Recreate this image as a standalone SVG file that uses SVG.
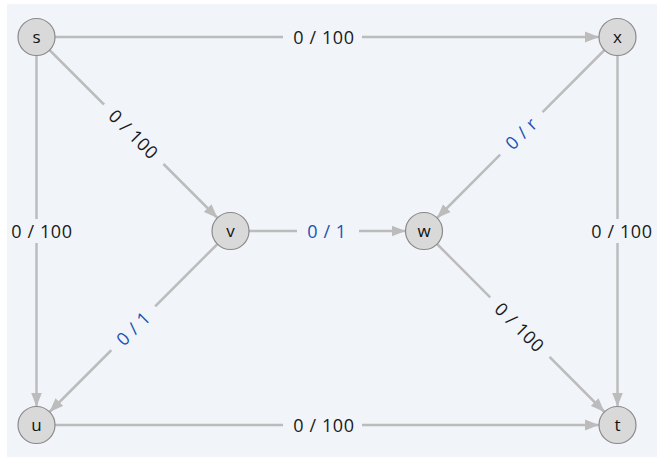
<svg xmlns="http://www.w3.org/2000/svg" width="657" height="457" viewBox="0 0 657 457">
<style>
.edge{stroke:#bcbcbc;stroke-width:2.5;fill:none}
.lbg{fill:#f1f5f9}
.lbl{font-family:"Open Sans","DejaVu Sans",sans-serif;font-size:18px;fill:#1a1a1a;text-anchor:middle;dominant-baseline:central;letter-spacing:0.6px}
.blue{fill:#2152b3}
.node circle{fill:#d9d9d9;stroke:#8a8a8a;stroke-width:1.2}
.node text{font-family:"Open Sans","DejaVu Sans",sans-serif;font-size:17px;fill:#111;text-anchor:middle;dominant-baseline:central}
</style>
<defs>
<marker id="arr" markerUnits="userSpaceOnUse" markerWidth="15" markerHeight="12" refX="14" refY="6" orient="auto">
<path d="M0,0.5 L14,6 L0,11.5 z" fill="#bcbcbc"/>
</marker>
</defs>
<rect x="7" y="4" width="650" height="453" fill="#f1f5f9"/>
<g id="edges">
<g id="e-s-x"><line class="edge" x1="55" y1="37" x2="599" y2="37" marker-end="url(#arr)"/><rect class="lbg" x="283" y="27" width="79" height="20"/><text class="lbl" x="324" y="37">0 / 100</text></g>
<g id="e-s-v"><line class="edge" x1="49.5" y1="50" x2="217.5" y2="218" marker-end="url(#arr)"/><g transform="translate(134,134) rotate(45)"><rect class="lbg" x="-42" y="-10" width="84" height="20"/><text class="lbl" x="0" y="0">0 / 100</text></g></g>
<g id="e-s-u"><line class="edge" x1="36.5" y1="55.5" x2="36.5" y2="406.5" marker-end="url(#arr)"/><rect class="lbg" x="8" y="219" width="70" height="24"/><text class="lbl" x="42" y="231">0 / 100</text></g>
<g id="e-x-w"><line class="edge" x1="604.5" y1="50" x2="437" y2="218" marker-end="url(#arr)"/><g transform="translate(521,133) rotate(-45)"><rect class="lbg" x="-30" y="-10" width="60" height="20"/><text class="lbl blue" x="0" y="0">0 / r</text></g></g>
<g id="e-x-t"><line class="edge" x1="617.5" y1="55.5" x2="617.5" y2="406.5" marker-end="url(#arr)"/><rect class="lbg" x="588" y="219" width="69" height="24"/><text class="lbl" x="622" y="231">0 / 100</text></g>
<g id="e-v-w"><line class="edge" x1="249" y1="231" x2="405.5" y2="231" marker-end="url(#arr)"/><rect class="lbg" x="297" y="221" width="62" height="20"/><text class="lbl blue" x="327" y="231">0 / 1</text></g>
<g id="e-v-u"><line class="edge" x1="217.5" y1="244" x2="49.5" y2="412" marker-end="url(#arr)"/><g transform="translate(133,328) rotate(-45)"><rect class="lbg" x="-31" y="-10" width="62" height="20"/><text class="lbl blue" x="0" y="0">0 / 1</text></g></g>
<g id="e-w-t"><line class="edge" x1="437" y1="244" x2="604.5" y2="412" marker-end="url(#arr)"/><g transform="translate(520,327) rotate(45)"><rect class="lbg" x="-42" y="-10" width="84" height="20"/><text class="lbl" x="0" y="0">0 / 100</text></g></g>
<g id="e-u-t"><line class="edge" x1="55" y1="425" x2="599" y2="425" marker-end="url(#arr)"/><rect class="lbg" x="283" y="415" width="79" height="20"/><text class="lbl" x="324" y="425">0 / 100</text></g>
</g>
<g id="node-s" class="node"><circle cx="36.5" cy="37" r="18.5"/><text x="36.5" y="36">s</text></g>
<g id="node-x" class="node"><circle cx="617.5" cy="37" r="18.5"/><text x="617.5" y="36">x</text></g>
<g id="node-v" class="node"><circle cx="230.5" cy="231" r="18.5"/><text x="230.5" y="230">v</text></g>
<g id="node-w" class="node"><circle cx="424" cy="231" r="18.5"/><text x="424" y="230">w</text></g>
<g id="node-u" class="node"><circle cx="36.5" cy="425" r="18.5"/><text x="36.5" y="424">u</text></g>
<g id="node-t" class="node"><circle cx="617.5" cy="425" r="18.5"/><text x="617.5" y="424">t</text></g>
</svg>
